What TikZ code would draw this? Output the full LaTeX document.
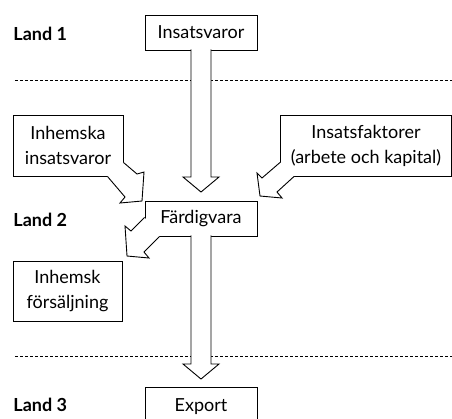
\documentclass[tikz,border=0pt]{standalone}
\usepackage{fontspec}
\setmainfont{Lato}
\usetikzlibrary{calc}

\begin{document}
\begin{tikzpicture}[x=1pt, y=-1pt, line width=0.9pt,
    box/.style={draw, inner sep=0pt, align=center, font=\fontsize{18}{25}\selectfont},
    land/.style={anchor=west, inner sep=0pt, font=\fontsize{18}{22}\selectfont\bfseries},
    border/.style={line width=0.6pt, dash pattern=on 3pt off 2pt},
    blockarrow/.style={fill=white, line join=miter}]

    % Fix the page to the picture
    \useasboundingbox (0,0) rectangle (452,418);

    % Draw borders between the countries
    \draw[border] (15,80) -- (452,80);
    \draw[border] (15,356) -- (452,356);

    % Country labels
    \node[land] (land1) at (13,33.5) {Land 1};
    \node[land] (land2) at (13,220) {Land 2};
    \node[land] (land3) at (13,405) {Land 3};

    % Draw boxes
    \node[box, minimum width=112pt, minimum height=35pt] (ins) at (201,32.5) {Insatsvaror};
    \node[box, minimum width=110pt, minimum height=61pt] (inhins) at (68,145.5) {Inhemska\\insatsvaror};
    \node[box, minimum width=171pt, minimum height=61pt] (fakt) at (366,145.5) {Insatsfaktorer\\(arbete och kapital)};
    \node[box, minimum width=112pt, minimum height=35pt] (fard) at (201,218.5) {F\"ardigvara};
    \node[box, minimum width=109pt, minimum height=60pt] (inhf) at (67.5,291) {Inhemsk\\f\"ors\"aljning};
    \node[box, minimum width=112pt, minimum height=40pt] (exp) at (201,407) {Export};

    % Arrow tips
    \coordinate (tipA) at (201,192);
    \coordinate (tipB) at (142,201);
    \coordinate (tipC) at (260,196);
    \coordinate (tipD) at (127,256);
    \coordinate (tipE) at (201,379);

    % Insatsvaror to Faerdigvara
    \filldraw[blockarrow] ($(ins.south)+(-10,-1)$) -- (191,177) -- (183,177) -- (tipA)
        -- (219,177) -- (211,177) -- ($(ins.south)+(10,-1)$);

    % Inhemska insatsvaror to Faerdigvara
    \filldraw[blockarrow] ($(inhins.south east)+(0,-14)$) -- (137,174) -- (144,172) -- (tipB)
        -- (120,203) -- (125,197) -- ($(inhins.south east)+(-16,0)$);

    % Insatsfaktorer to Faerdigvara
    \filldraw[blockarrow] ($(fakt.south west)+(0,-14)$) -- (262,178) -- (257,173) -- (tipC)
        -- (282,198) -- (277,192) -- ($(fakt.south west)+(14,0)$);

    % Faerdigvara to Inhemsk foersaeljning
    \filldraw[blockarrow] ($(fard.south west)+(0,-19)$) -- (131,231) -- (125,226) -- (tipD)
        -- (149,258) -- (144,252) -- ($(fard.south west)+(15,0)$);

    % Faerdigvara to Export
    \filldraw[blockarrow] ($(fard.south)+(-10,-1)$) -- (191,364) -- (183,364) -- (tipE)
        -- (219,364) -- (211,364) -- ($(fard.south)+(10,-1)$);

\end{tikzpicture}
\end{document}
